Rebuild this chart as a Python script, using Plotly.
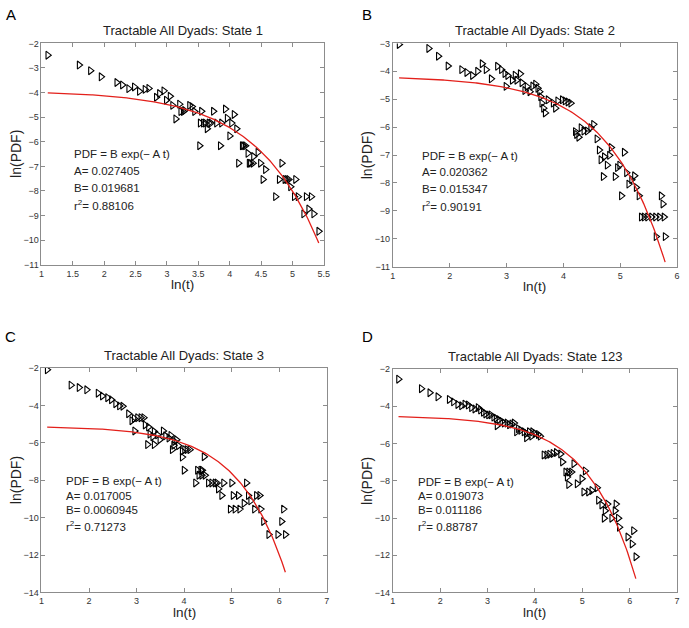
import numpy as np
import plotly.graph_objects as go

# ---------------- data ----------------
titles = ["Tractable All Dyads: State 1", "Tractable All Dyads: State 2",
          "Tractable All Dyads: State 3", "Tractable All Dyads: State 123"]
letters = ["A", "B", "C", "D"]
fit_A = [0.027405, 0.020362, 0.017005, 0.019073]
fit_B = [0.019681, 0.015347, 0.0060945, 0.011186]
fit_r2 = ["0.88106", "0.90191", "0.71273", "0.88787"]
fit_B_txt = ["0.019681", "0.015347", "0.0060945", "0.011186"]
fit_A_txt = ["0.027405", "0.020362", "0.017005", "0.019073"]

x1 = [1.10, 1.60, 1.78, 1.95, 2.20, 2.29, 2.39, 2.48, 2.56, 2.65, 2.71, 2.83, 2.88, 2.95, 2.99,
      3.05, 3.09, 3.14, 3.20, 3.22, 3.26, 3.28, 3.36, 3.40, 3.44, 3.52, 3.55, 3.53, 3.58, 3.61,
      3.64, 3.67, 3.70, 3.79, 3.74, 3.85, 3.87, 3.93, 3.96, 4.00, 4.03, 4.07, 4.11, 4.14, 4.20,
      4.22, 4.25, 4.29, 4.31, 4.33, 4.37, 4.38, 4.45, 4.49, 4.53, 4.57, 4.73, 4.83, 4.79, 4.88,
      4.91, 4.94, 4.97, 5.05, 5.03, 5.09, 5.18, 5.22, 5.30, 5.26, 5.34, 5.42]
y1 = [-2.48, -2.88, -3.11, -3.36, -3.59, -3.69, -3.84, -3.77, -3.95, -3.87, -3.83, -4.19, -4.04, -3.93, -4.31,
      -4.15, -4.52, -5.07, -4.47, -4.77, -4.77, -4.73, -4.52, -4.57, -4.77, -6.16, -4.76, -5.24, -5.24, -5.24,
      -5.47, -5.24, -5.24, -5.24, -4.76, -6.16, -5.24, -4.67, -5.04, -5.76, -5.24, -4.89, -5.47, -6.87, -6.16,
      -6.16, -6.16, -6.47, -6.87, -6.87, -6.87, -6.60, -6.43, -6.87, -7.53, -7.13, -8.23, -6.87, -7.53, -7.53,
      -7.53, -7.53, -7.83, -7.53, -8.23, -8.23, -8.93, -8.23, -8.23, -8.73, -8.93, -9.64]

x2 = [1.11, 1.63, 1.80, 1.97, 2.21, 2.30, 2.40, 2.49, 2.57, 2.64, 2.73, 2.84, 2.91, 2.97, 3.02,
      2.99, 3.10, 3.15, 3.18, 3.24, 3.27, 3.32, 3.36, 3.41, 3.46, 3.51, 3.55, 3.58, 3.60, 3.62,
      3.65, 3.68, 3.73, 3.82, 3.86, 3.90, 3.98, 4.03, 4.08, 4.13, 4.21, 4.23, 4.27, 4.31, 4.36,
      4.42, 4.48, 4.53, 4.59, 4.63, 4.66, 4.72, 4.70, 4.77, 4.84, 4.91, 4.81, 4.95, 5.02, 5.07,
      4.99, 5.11, 5.15, 5.20, 5.25, 5.28, 5.33, 5.37, 5.42, 5.48, 5.55, 5.62, 5.69, 5.77, 5.72,
      5.75, 5.63, 5.79]
y2 = [-3.04, -3.18, -3.46, -3.81, -3.94, -4.04, -4.15, -4.00, -3.73, -3.94, -4.27, -3.82, -3.94, -4.08, -4.15,
      -4.54, -4.32, -4.14, -4.32, -4.09, -4.41, -4.69, -4.55, -4.73, -4.53, -4.46, -4.61, -4.73, -4.91, -5.14,
      -5.32, -5.49, -5.02, -5.14, -5.32, -5.06, -5.02, -5.06, -5.10, -5.14, -6.16, -6.26, -6.36, -6.02, -6.14,
      -6.14, -6.02, -5.90, -6.42, -6.82, -7.17, -7.06, -7.77, -7.36, -6.73, -7.77, -7.01, -7.45, -8.46, -6.90,
      -7.36, -7.63, -8.04, -7.88, -7.74, -8.16, -8.46, -9.22, -9.22, -9.22, -9.22, -9.22, -9.22, -9.22, -8.46,
      -8.75, -9.92, -9.92]

x3 = [1.12, 1.62, 1.79, 1.95, 2.19, 2.28, 2.39, 2.47, 2.56, 2.64, 2.71, 2.83, 2.90, 2.95, 3.02,
      3.09, 3.15, 2.96, 3.18, 3.25, 3.28, 3.34, 3.37, 3.44, 3.23, 3.37, 3.49, 3.56, 3.61, 3.68,
      3.72, 3.80, 3.84, 3.78, 3.88, 3.75, 3.96, 4.01, 4.06, 4.12, 3.96, 4.00, 4.24, 4.28, 4.35,
      4.42, 4.38, 4.31, 4.37, 4.44, 4.51, 4.58, 4.65, 4.69, 4.72, 4.83, 5.00, 5.31, 4.79, 5.03,
      5.14, 4.97, 5.07, 5.17, 5.26, 5.35, 5.40, 5.48, 5.61, 5.52, 5.59, 5.67, 5.78, 5.97, 6.13,
      6.05, 6.09]
y3 = [-2.09, -2.91, -3.04, -3.16, -3.34, -3.49, -3.58, -3.69, -3.90, -4.02, -4.04, -4.44, -4.81, -4.69, -4.65,
      -4.65, -4.65, -5.36, -5.04, -5.15, -5.53, -5.67, -5.39, -5.57, -6.09, -6.09, -5.83, -5.36, -5.62, -5.74,
      -5.60, -5.92, -5.83, -6.13, -6.15, -6.36, -6.45, -6.36, -6.36, -6.36, -6.76, -7.46, -8.14, -7.46, -7.46,
      -6.74, -7.46, -7.73, -7.73, -7.73, -8.14, -8.14, -8.14, -8.14, -8.46, -8.14, -8.14, -8.14, -8.81, -8.81,
      -8.81, -9.54, -9.54, -9.54, -9.23, -8.81, -9.10, -9.54, -9.54, -8.81, -8.81, -10.20, -10.90, -10.90, -10.90,
      -10.20, -9.54]

x4 = [1.12, 1.60, 1.78, 1.95, 2.19, 2.28, 2.37, 2.45, 2.52, 2.59, 2.66, 2.73, 2.80, 2.85, 2.91,
      2.96, 3.02, 3.07, 3.13, 3.18, 3.24, 3.30, 3.35, 3.41, 3.46, 3.51, 3.56, 3.20, 3.61, 3.65,
      3.70, 3.77, 3.82, 3.88, 3.95, 4.00, 4.07, 4.11, 3.82, 3.93, 4.19, 4.25, 4.31, 4.38, 4.45,
      4.54, 4.58, 4.65, 4.71, 4.77, 4.68, 4.71, 4.82, 5.06, 4.89, 4.99, 5.03, 5.13, 5.20, 5.31,
      5.34, 5.41, 5.53, 5.48, 5.71, 5.69, 5.46, 5.62, 5.76, 5.78, 5.96, 6.08, 6.05, 6.13]
y4 = [-2.54, -3.05, -3.27, -3.49, -3.63, -3.76, -3.90, -3.97, -3.88, -3.93, -4.07, -4.14, -4.07, -4.20, -4.32,
      -4.41, -4.46, -4.46, -4.58, -4.64, -4.72, -4.81, -4.90, -4.90, -4.99, -4.95, -4.90, -5.04, -5.37, -5.20,
      -5.29, -5.37, -5.46, -5.37, -5.37, -5.46, -5.51, -5.60, -5.69, -5.60, -6.61, -6.61, -6.57, -6.53, -6.48,
      -6.56, -6.99, -7.53, -7.53, -7.53, -7.80, -8.20, -7.08, -7.47, -8.16, -7.89, -8.60, -8.60, -8.52, -8.37,
      -9.04, -9.30, -9.25, -9.61, -9.25, -9.61, -10.01, -10.01, -10.01, -10.49, -11.02, -10.68, -11.39, -12.08]

xs = [x1, x2, x3, x4]
ys = [y1, y2, y3, y4]

x_ranges = [[1, 5.5], [1, 6], [1, 7], [1, 7]]
y_ranges = [[-11, -2], [-11, -3], [-14, -2], [-14, -2]]
x_dticks = [0.5, 1, 1, 1]
y_dticks = [1, 1, 2, 2]
x_doms = [[39 / 689, 325 / 689], [395 / 689, 683 / 689], [39 / 689, 328 / 689], [395 / 689, 683 / 689]]
y_doms = [[1 - 264 / 628, 1 - 39 / 628], [1 - 266 / 628, 1 - 39 / 628],
          [1 - 597 / 628, 1 - 369 / 628], [1 - 597 / 628, 1 - 370 / 628]]
text_y = [[-6.5, -7.17, -7.88, -8.57], [-7.02, -7.61, -8.2, -8.81],
          [-8.03, -8.82, -9.61, -10.45], [-8.06, -8.82, -9.59, -10.44]]

FONT = "Liberation Sans, Arial, sans-serif"
fig = go.Figure()
annotations = []
layout = {}

for i in range(4):
    sfx = "" if i == 0 else str(i + 1)
    xa, ya = "x" + sfx, "y" + sfx
    # fit curve from stated parameters: ln(PDF) = ln(B) - A*exp(ln t)
    xc = np.linspace(min(xs[i]), max(xs[i]), 200)
    yc = np.log(fit_B[i]) - fit_A[i] * np.exp(xc)
    fig.add_trace(go.Scatter(x=xs[i], y=ys[i], mode="markers", xaxis=xa, yaxis=ya,
                             marker=dict(symbol="triangle-right-open", size=7, color="black",
                                         line=dict(width=1.1, color="black")),
                             showlegend=False, hoverinfo="skip"))
    fig.add_trace(go.Scatter(x=xc, y=yc, mode="lines", xaxis=xa, yaxis=ya,
                             line=dict(color="#e3201b", width=1.3), showlegend=False, hoverinfo="skip"))
    axcommon = dict(showline=True, linecolor="#8c8c8c", linewidth=1, mirror="allticks",
                    ticks="inside", ticklen=4, tickcolor="#8c8c8c", showgrid=False, zeroline=False,
                    tickfont=dict(family=FONT, size=9, color="#333333"))
    layout["xaxis" + sfx] = dict(axcommon, domain=x_doms[i], range=x_ranges[i], dtick=x_dticks[i],
                                 tick0=1, anchor=ya, ticklabelstandoff=0)
    layout["yaxis" + sfx] = dict(axcommon, domain=y_doms[i], range=y_ranges[i], dtick=y_dticks[i],
                                 anchor=xa)
    xd, yd = x_doms[i], y_doms[i]
    xc_p = (xd[0] + xd[1]) / 2
    # panel title
    annotations.append(dict(text=titles[i], xref="paper", yref="paper", x=xc_p,
                            y=yd[1] + 13 / 628, xanchor="center", yanchor="middle", showarrow=False,
                            font=dict(family=FONT, size=13, color="#222222")))
    # x axis title
    annotations.append(dict(text="ln(t)", xref="paper", yref="paper", x=xc_p,
                            y=yd[0] - 20 / 628, xanchor="center", yanchor="middle", showarrow=False,
                            borderpad=0, font=dict(family=FONT, size=13.5, color="#222222")))
    # y axis title
    annotations.append(dict(text="ln(PDF)", xref="paper", yref="paper", x=xd[0] - 26 / 689,
                            y=(yd[0] + yd[1]) / 2, xanchor="center", yanchor="middle", textangle=-90,
                            showarrow=False, font=dict(family=FONT, size=14, color="#222222")))
    # panel letter
    annotations.append(dict(text=letters[i], xref="paper", yref="paper",
                            x=(8 if i % 2 == 0 else 369) / 689,
                            y=1 - (10 if i < 2 else 337) / 628, xanchor="center", yanchor="middle",
                            showarrow=False, font=dict(family=FONT, size=15, color="black")))
    lines = ["PDF = B exp(\u2212 A t)", "A= " + fit_A_txt[i], "B= " + fit_B_txt[i],
             "r<sup>2</sup>= " + fit_r2[i]]
    for j, t in enumerate(lines):
        annotations.append(dict(text=t, xref=xa, yref=ya, x=1.5, y=text_y[i][j], xanchor="left",
                                yanchor="middle", showarrow=False, borderpad=0,
                                font=dict(family=FONT, size=11.5, color="#222222")))

fig.update_layout(width=689, height=628, margin=dict(l=0, r=0, t=0, b=0),
                  plot_bgcolor="white", paper_bgcolor="white", annotations=annotations, **layout)
fig.write_html("out.html", config={"displayModeBar": False},
               post_script="document.body.style.margin='0';document.body.style.overflow='hidden';")
